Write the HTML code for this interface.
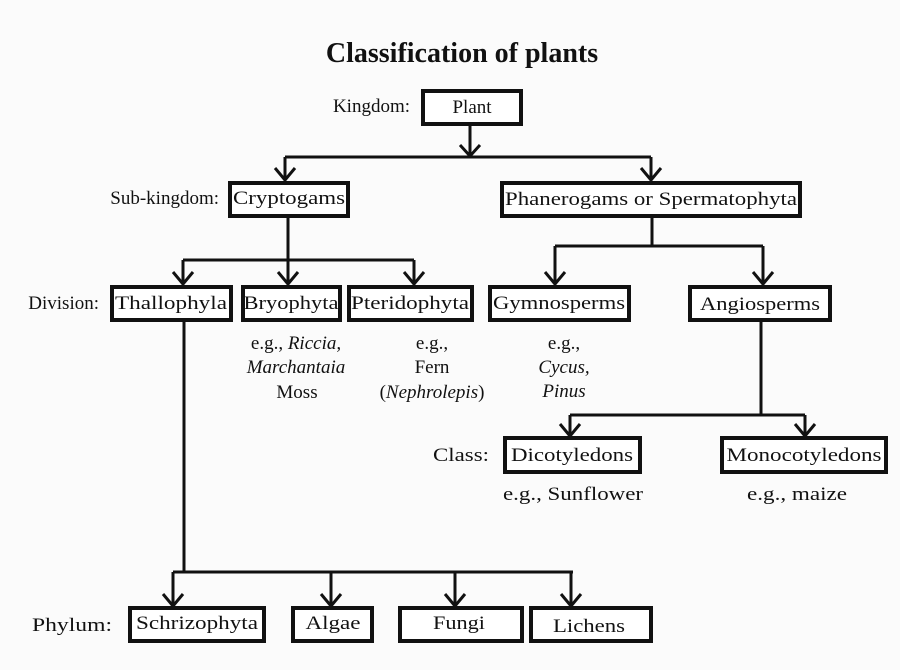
<!DOCTYPE html>
<html><head><meta charset="utf-8"><style>
html,body{margin:0;padding:0;background:#fbfbfb;}
svg{display:block}
text{font-family:"Liberation Serif",serif;fill:#111;}
</style></head><body>
<svg width="900" height="670" viewBox="0 0 900 670" xmlns="http://www.w3.org/2000/svg">
<rect width="900" height="670" fill="#fbfbfb"/>
<text x="462" y="62" font-size="28" font-weight="bold" text-anchor="middle">Classification of plants</text>

<g fill="none" stroke="#111" stroke-width="3">
<!-- plant -->
<path d="M470 125 V157 M285 157 H651 M285 157 V180 M651 157 V180"/>
<path d="M460 145 L470 156 L480 145"/>
<path d="M275 168 L285 180 L295 168 M641 168 L651 180 L661 168"/>
<!-- cryptogams -->
<path d="M288 217 V260 M183 260 H414 M183 260 V284 M288 260 V284 M414 260 V284"/>
<path d="M173 272 L183 284 L193 272 M278 272 L288 284 L298 272 M404 272 L414 284 L424 272"/>
<!-- phanerogams -->
<path d="M652 217 V246 M555 246 H763 M555 246 V284 M763 246 V284"/>
<path d="M545 272 L555 284 L565 272 M753 272 L763 284 L773 272"/>
<!-- angiosperms -->
<path d="M761 321 V415 M570 415 H805 M570 415 V436 M805 415 V436"/>
<path d="M560 424 L570 436 L580 424 M795 424 L805 436 L815 424"/>
<!-- thallophyla -->
<path d="M184 321 V572 M173 572 H573 M173 572 V606 M331 572 V606 M455 572 V606 M571 572 V606"/>
<path d="M163 594 L173 606 L183 594 M321 594 L331 606 L341 594 M445 594 L455 606 L465 594 M561 594 L571 606 L581 594"/>
</g>

<g fill="#fff" stroke="#111" stroke-width="4">
<rect x="423" y="91" width="98" height="33"/>
<rect x="230" y="183" width="118" height="33"/>
<rect x="502" y="183" width="298" height="33"/>
<rect x="112" y="287" width="119" height="33"/>
<rect x="243" y="287" width="97" height="33"/>
<rect x="349" y="287" width="123" height="33"/>
<rect x="490" y="287" width="139" height="33"/>
<rect x="690" y="287" width="140" height="33"/>
<rect x="505" y="438" width="135" height="34"/>
<rect x="722" y="438" width="164" height="34"/>
<rect x="130" y="608" width="134" height="33"/>
<rect x="293" y="608" width="79" height="33"/>
<rect x="400" y="608" width="122" height="33"/>
<rect x="531" y="608" width="120" height="33"/>
</g>

<g font-size="19">
<text x="410" y="112" text-anchor="end">Kingdom:</text>
<text x="472" y="113" text-anchor="middle">Plant</text>
<text x="219" y="204" text-anchor="end">Sub-kingdom:</text>
<text x="289" y="204" text-anchor="middle" textLength="112" lengthAdjust="spacingAndGlyphs">Cryptogams</text>
<text x="651" y="205" text-anchor="middle" textLength="292" lengthAdjust="spacingAndGlyphs">Phanerogams or Spermatophyta</text>
<text x="99" y="309" text-anchor="end">Division:</text>
<text x="171" y="309" text-anchor="middle" textLength="112" lengthAdjust="spacingAndGlyphs">Thallophyla</text>
<text x="291" y="309" text-anchor="middle" textLength="95" lengthAdjust="spacingAndGlyphs">Bryophyta</text>
<text x="410" y="309" text-anchor="middle" textLength="118" lengthAdjust="spacingAndGlyphs">Pteridophyta</text>
<text x="559" y="309" text-anchor="middle" textLength="132" lengthAdjust="spacingAndGlyphs">Gymnosperms</text>
<text x="760" y="310" text-anchor="middle" textLength="120" lengthAdjust="spacingAndGlyphs">Angiosperms</text>

<text x="296" y="349" text-anchor="middle">e.g., <tspan font-style="italic">Riccia,</tspan></text>
<text x="296" y="373" text-anchor="middle" font-style="italic">Marchantaia</text>
<text x="297" y="398" text-anchor="middle">Moss</text>
<text x="432" y="349" text-anchor="middle">e.g.,</text>
<text x="432" y="373" text-anchor="middle">Fern</text>
<text x="432" y="398" text-anchor="middle">(<tspan font-style="italic">Nephrolepis</tspan>)</text>
<text x="564" y="349" text-anchor="middle">e.g.,</text>
<text x="564" y="373" text-anchor="middle" font-style="italic">Cycus,</text>
<text x="564" y="397" text-anchor="middle" font-style="italic">Pinus</text>

<text x="489" y="461" text-anchor="end" textLength="56" lengthAdjust="spacingAndGlyphs">Class:</text>
<text x="572" y="461" text-anchor="middle" textLength="122" lengthAdjust="spacingAndGlyphs">Dicotyledons</text>
<text x="804" y="461" text-anchor="middle" textLength="155" lengthAdjust="spacingAndGlyphs">Monocotyledons</text>
<text x="573" y="500" text-anchor="middle" textLength="140" lengthAdjust="spacingAndGlyphs">e.g., Sunflower</text>
<text x="797" y="500" text-anchor="middle" textLength="100" lengthAdjust="spacingAndGlyphs">e.g., maize</text>

<text x="112" y="631" text-anchor="end" textLength="80" lengthAdjust="spacingAndGlyphs">Phylum:</text>
<text x="197" y="629" text-anchor="middle" textLength="122" lengthAdjust="spacingAndGlyphs">Schrizophyta</text>
<text x="333" y="629" text-anchor="middle" textLength="55" lengthAdjust="spacingAndGlyphs">Algae</text>
<text x="459" y="629" text-anchor="middle" textLength="52" lengthAdjust="spacingAndGlyphs">Fungi</text>
<text x="589" y="632" text-anchor="middle" textLength="72" lengthAdjust="spacingAndGlyphs">Lichens</text>
</g>
</svg>
</body></html>
